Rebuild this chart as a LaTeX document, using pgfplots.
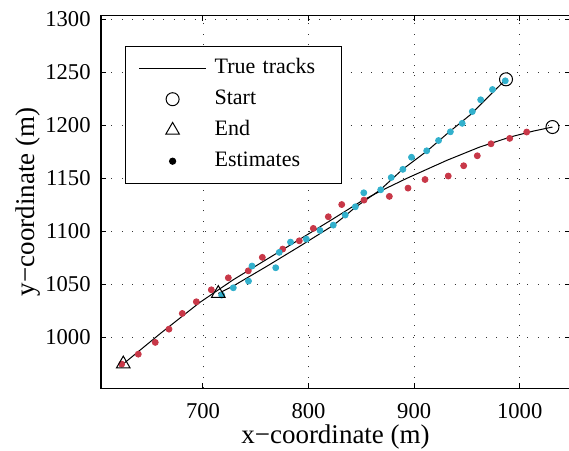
\documentclass[border=0pt]{standalone}
\usepackage{fontspec}
\setmainfont{Liberation Serif}
\usepackage{pgfplots}
\pgfplotsset{compat=1.18}
\definecolor{trkred}{RGB}{200,56,72}
\definecolor{trkcyan}{RGB}{50,176,204}

\begin{document}
\begin{tikzpicture}
\begin{axis}[
  at={(0,0)}, anchor=south west,
  scale only axis, width=234.5pt, height=186.2pt,
  xmin=603.4, xmax=1047.6, ymin=952.2, ymax=1303.4,
  xtick={700,800,900,1000}, ytick={1000,1050,1100,1150,1200,1250,1300},
  scaled ticks=false,
  tick align=inside, major tick length=2.5pt,
  axis line style={line width=0.6pt},
  every tick/.style={black, line width=0.5pt},
  grid=major,
  major grid style={black!80, line width=0.45pt, dash pattern=on 0.45pt off 4.75pt},
  font=\fontsize{11.3}{13}\selectfont,
  /pgf/number format/assume math mode=true,
  /pgf/number format/1000 sep={},
  xticklabel style={inner sep=0pt, yshift=-7.5pt},
  yticklabel style={inner sep=0pt, xshift=-5pt},
  xlabel={x−coordinate (m)},
  ylabel={y−coordinate (m)},
  xlabel style={at={(axis description cs:0.5,-0.1477)}, anchor=base, inner sep=0pt,
    font=\fontsize{13.5}{15}\selectfont},
  ylabel style={at={(axis description cs:-0.1413,0.5)}, anchor=base, inner sep=0pt,
    font=\fontsize{13.5}{15}\selectfont},
  legend cell align=left,
  legend style={
    at={(axis description cs:0.0512,0.9194)}, anchor=north west,
    draw=black, line width=0.6pt, fill=white,
    inner xsep=6.5pt, inner ysep=4.2pt,
    row sep=2pt, column sep=4pt,
    font=\fontsize{11}{13}\selectfont,
    nodes={inner xsep=0pt, inner ysep=1.5pt, text height=8pt, text depth=2.5pt,
      text width=57pt, align=left},
  },
]

% legend entries
\addlegendimage{legend image code/.code={\draw[black, line width=0.5pt] (0pt,0pt) -- (33.5pt,0pt);}}
\addlegendentry{True tracks}
\addlegendimage{legend image code/.code={\draw[black, line width=0.5pt, mark size=3.25pt] plot[mark=o] coordinates {(16.75pt,0pt)};}}
\addlegendentry{Start}
\addlegendimage{legend image code/.code={\draw[black, line width=0.5pt, mark size=3.9pt] plot[mark=triangle] coordinates {(16.75pt,0pt)};}}
\addlegendentry{End}
\addlegendimage{legend image code/.code={\draw[black, mark size=1.5pt] plot[mark=*] coordinates {(16.75pt,0pt)};}}
\addlegendentry{Estimates}

% true track of target 1
\addplot[black, line width=0.5pt, forget plot] coordinates {
  (1031,1198.4) (1013,1194.6) (991,1189) (962,1179.5) (931,1167)
  (893,1150) (868,1138) (850,1128.5) (823.4,1111.9) (791.9,1092.7)
  (760.3,1073.6) (728.7,1054.4) (697,1033) (660,1004) (624.5,975)
};
% true track of target 2
\addplot[black, line width=0.5pt, forget plot] coordinates {
  (987,1243.4) (971.9,1228.6) (952.9,1209.7) (933.1,1193.7) (912.2,1175.8)
  (889.4,1158.8) (867.7,1139) (844,1122.5) (834.5,1114.5) (823.4,1105.7)
  (791.9,1086.1) (760.3,1067) (728.7,1048.5) (714.5,1041.5)
};

% estimates of target 1
\addplot[only marks, mark=*, mark size=1.5pt, color=trkred, forget plot] coordinates {
  (623.0,974.8) (638.7,984.2) (654.8,995.3) (667.8,1007.8) (680.4,1022.6)
  (693.7,1033.6) (707.9,1044.9) (724.0,1056.2) (742.9,1062.8) (756.2,1075.5)
  (775.5,1083.3) (791.2,1091.1) (804.5,1102.8) (818.7,1113.8) (831.4,1125.3)
  (852.5,1129.5) (876.5,1133.0) (894.2,1140.8) (910.3,1148.9) (932.3,1152.2)
  (946.9,1161.9) (959.8,1171.3) (972.8,1182.6) (990.5,1187.7) (1006.6,1193.7)
};
% estimates of target 2
\addplot[only marks, mark=*, mark size=1.5pt, color=trkcyan, forget plot] coordinates {
  (717.7,1039.9) (728.7,1046.8) (743.1,1053.1) (746.4,1067.3) (768.9,1065.7)
  (772.2,1080.2) (782.9,1089.9) (797.9,1092.7) (810.8,1100.9) (823.4,1105.9)
  (834.7,1115.4) (844.3,1123.2) (852.3,1136.4) (868.3,1139.2) (878.3,1150.8)
  (889.3,1158.5) (897.5,1169.9) (911.9,1176.0) (923.1,1185.7) (934.3,1193.9)
  (945.5,1201.9) (955.1,1213.0) (963.0,1224.1) (974.2,1233.8) (986.3,1242.0)
};

% start and end points
\addplot[only marks, mark=o, mark size=3.25pt, black, line width=0.5pt, forget plot]
  coordinates {(1031,1198.4) (987,1243.4)};
\addplot[only marks, mark=triangle, mark size=3.9pt, black, line width=0.5pt, forget plot]
  coordinates {(624.5,975) (714.5,1041.5)};
\end{axis}
\pgfresetboundingbox
\useasboundingbox (-50.5pt,-31pt) rectangle (234pt,194.05pt);
\end{tikzpicture}
\end{document}
